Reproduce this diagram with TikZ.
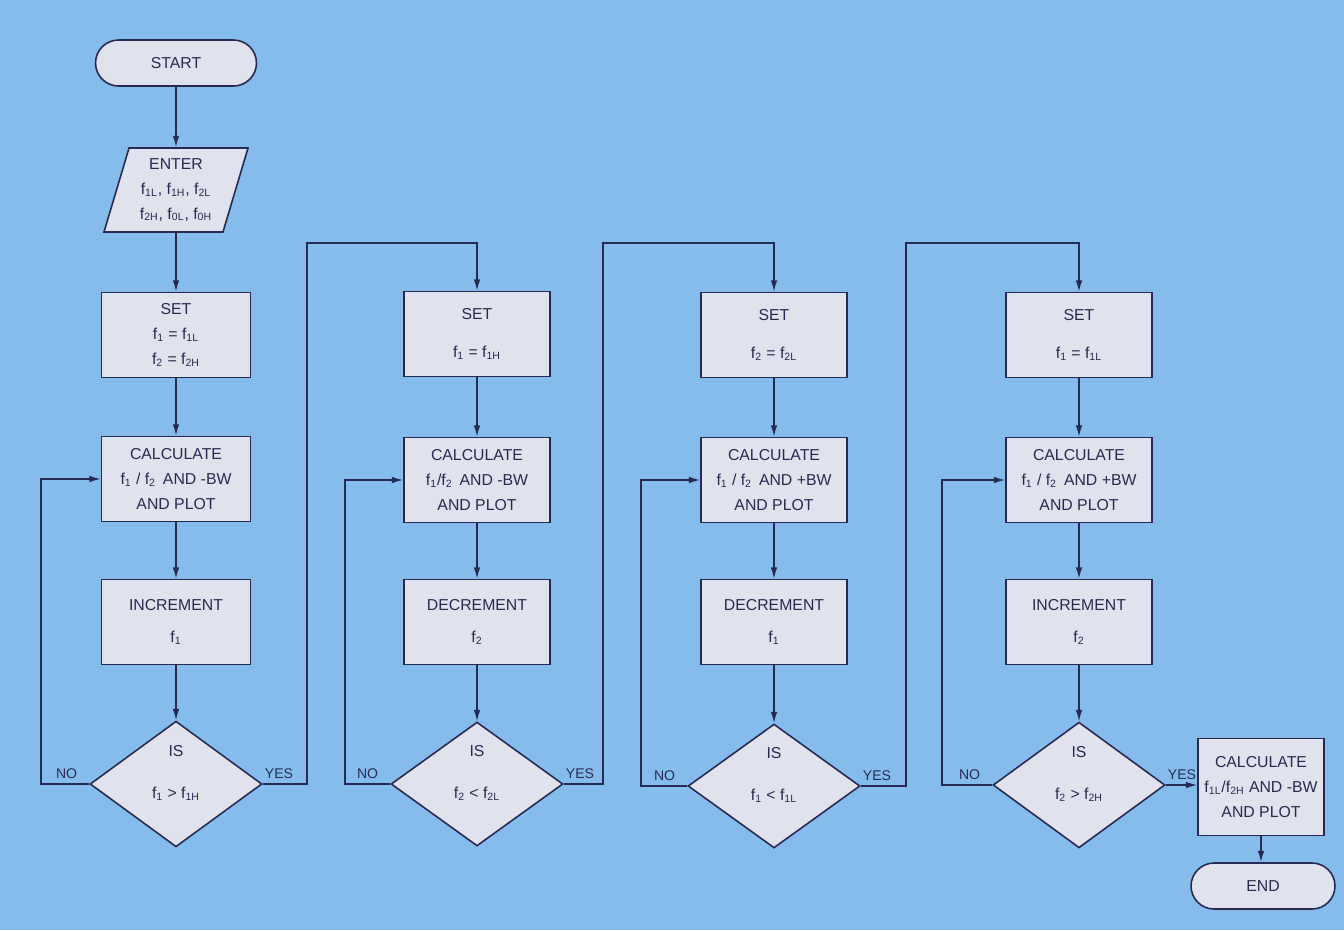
\documentclass[tikz,border=0pt]{standalone}
\usepackage{fontspec}
\setmainfont{Liberation Sans}
\usetikzlibrary{shapes.geometric,shapes.misc,arrows.meta}
\definecolor{chartbg}{RGB}{134,188,236}
\definecolor{boxfill}{RGB}{224,226,238}
\definecolor{inkline}{RGB}{38,42,80}
\newcommand{\fq}[1]{f\textsubscript{#1}}

\tikzset{
  every node/.style={text=inkline},
  box/.style={draw=inkline,fill=boxfill,line width=0.9pt,minimum width=2.92cm,
    minimum height=1.7cm,align=center,inner sep=2pt,font=\fontsize{9}{14}\selectfont},
  capsule/.style={box,rounded rectangle,minimum width=3.36cm,minimum height=0.92cm},
  inbox/.style={box,trapezium,trapezium left angle=73,trapezium right angle=107,
    trapezium stretches=true,minimum width=2.9cm,minimum height=1.68cm},
  test/.style={box,diamond,minimum width=3.44cm,minimum height=2.44cm,inner sep=0pt},
  lbl/.style={font=\fontsize{8}{9}\selectfont,inner sep=1pt},
  flow/.style={draw=inkline,line width=0.9pt,-{Latex[length=6.5pt,width=3.8pt]}}
}

\begin{document}
\begin{tikzpicture}[x=0.02cm,y=-0.02cm]
  \fill[chartbg] (0,0) rectangle (1344,930);

  % first column
  \node[capsule] (start) at (176,63) {START};
  \node[inbox] (enter) at (176,190) {ENTER\\\fq{1L}, \fq{1H}, \fq{2L}\\\fq{2H}, \fq{0L}, \fq{0H}};
  \node[box,minimum width=2.98cm] (set1) at (176,335) {SET\\\fq{1} = \fq{1L}\\\fq{2} = \fq{2H}};
  \node[box,minimum width=2.98cm] (calc1) at (176,479) {CALCULATE\\\fq{1} / \fq{2}\, AND -BW\\AND PLOT};
  \node[box,minimum width=2.98cm] (step1) at (176,622) {INCREMENT\\[4pt]\fq{1}};
  \node[test] (is1) at (176,784) {IS\\[10pt]\fq{1} > \fq{1H}\\[0pt]\mbox{}};

  % second column
  \node[box] (set2) at (477,334) {SET\\[8pt]\fq{1} = \fq{1H}};
  \node[box] (calc2) at (477,480) {CALCULATE\\\fq{1}/\fq{2}\, AND -BW\\AND PLOT};
  \node[box] (step2) at (477,622) {DECREMENT\\[4pt]\fq{2}};
  \node[test] (is2) at (477,784) {IS\\[10pt]\fq{2} < \fq{2L}\\[0pt]\mbox{}};

  % third column
  \node[box] (set3) at (774,335) {SET\\[8pt]\fq{2} = \fq{2L}};
  \node[box] (calc3) at (774,480) {CALCULATE\\\fq{1} / \fq{2}\, AND +BW\\AND PLOT};
  \node[box] (step3) at (774,622) {DECREMENT\\[4pt]\fq{1}};
  \node[test] (is3) at (774,786) {IS\\[10pt]\fq{1} < \fq{1L}\\[0pt]\mbox{}};

  % fourth column
  \node[box] (set4) at (1079,335) {SET\\[8pt]\fq{1} = \fq{1L}};
  \node[box] (calc4) at (1079,480) {CALCULATE\\\fq{1} / \fq{2}\, AND +BW\\AND PLOT};
  \node[box] (step4) at (1079,622) {INCREMENT\\[4pt]\fq{2}};
  \node[test] (is4) at (1079,785) {IS\\[10pt]\fq{2} > \fq{2H}\\[0pt]\mbox{}};

  \node[box,minimum width=2.52cm,minimum height=1.94cm,inner sep=1pt] (calc5) at (1261,787)
    {CALCULATE\\\fq{1L}/\fq{2H} AND -BW\\AND PLOT};
  \node[capsule,minimum width=3.02cm] (end) at (1263,886) {END};

  % loop corners
  \coordinate (back1) at (41,784);
  \coordinate (back2) at (345,784);
  \coordinate (back3) at (641,786);
  \coordinate (back4) at (942,785);
  \coordinate (up1) at (307,243);
  \coordinate (up2) at (603,243);
  \coordinate (up3) at (906,243);

  \draw[flow] (start) -- (enter);
  \draw[flow] (enter) -- (set1);
  \foreach \c in {1,2,3,4}{
    \draw[flow] (set\c) -- (calc\c);
    \draw[flow] (calc\c) -- (step\c);
    \draw[flow] (step\c) -- (is\c);
    \draw[flow] (is\c.west) -- (back\c) |- (calc\c.west);
    \node[lbl,anchor=south east] (no\c) at ([xshift=-0.2cm,yshift=0.06cm]is\c.west) {NO};
    \node[lbl,anchor=south west] (yes\c) at ([yshift=0.06cm]is\c.east) {YES};
  }
  \draw[flow] (is1.east) -| (up1) -| (set2.north);
  \draw[flow] (is2.east) -| (up2) -| (set3.north);
  \draw[flow] (is3.east) -| (up3) -| (set4.north);
  \draw[flow] (is4.east) -- (calc5.west |- is4.east);
  \draw[flow] (calc5) -- (calc5 |- end.north);
\end{tikzpicture}
\end{document}
